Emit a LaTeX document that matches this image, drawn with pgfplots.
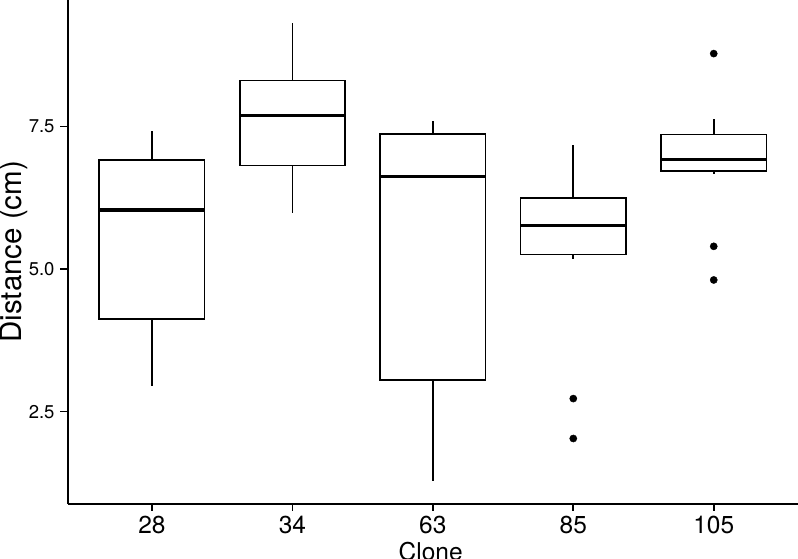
\documentclass[border=0pt]{standalone}
\usepackage{fontspec}
\setmainfont{TeX Gyre Heros}
\usepackage{pgfplots}
\pgfplotsset{compat=1.18}
\usepgfplotslibrary{statistics}
\begin{document}
\begin{tikzpicture}
\begin{axis}[
  at={(0,0)}, anchor=south west,
  scale only axis, width=730.3pt, height=503.5pt,
  xmin=0.4, xmax=5.6, ymin=0.89, ymax=9.72,
  axis x line*=bottom, axis y line*=left,
  axis line style={black, line width=2pt},
  xtick={1,2,3,4,5}, xticklabels={28,34,63,85,105},
  ytick={2.5,5,7.5}, yticklabels={2.5,5.0,7.5},
  tick align=outside, major tick length=0pt,
  xticklabel style={font=\fontsize{24.5}{24.5}\selectfont, inner sep=0pt, anchor=north, yshift=-12pt},
  yticklabel style={font=\fontsize{18.5}{18.5}\selectfont, inner sep=0pt, anchor=east, xshift=-13pt},
  xlabel={Clone}, ylabel={Distance (cm)},
  xlabel style={font=\fontsize{24.5}{24.5}\selectfont, at={(axis description cs:0.497,-0.0763)}, anchor=north, inner sep=0pt},
  ylabel style={font=\fontsize{29.5}{29.5}\selectfont, at={(axis description cs:-0.0927,0.5)}, rotate=0, anchor=north, inner sep=0pt},
  boxplot/draw direction=y,
  boxplot/box extend=0.75,
  boxplot/whisker extend=0,
  boxplot/every box/.style={draw=black, fill=white, line width=1.6pt},
  boxplot/every whisker/.style={draw=black, line width=1.6pt},
  boxplot/every median/.style={draw=black, line width=3.4pt},
  clip=false,
]
\addplot[black, line width=1.6pt, boxplot prepared={draw position=1, lower whisker=2.95, lower quartile=4.13, median=6.04, upper quartile=6.91, upper whisker=7.43}] coordinates {};
\addplot[black, line width=1.6pt, boxplot prepared={draw position=2, lower whisker=5.98, lower quartile=6.82, median=7.69, upper quartile=8.31, upper whisker=9.32}] coordinates {};
\addplot[black, line width=1.6pt, boxplot prepared={draw position=3, lower whisker=1.29, lower quartile=3.06, median=6.62, upper quartile=7.37, upper whisker=7.59}] coordinates {};
\addplot[black, line width=1.6pt, boxplot prepared={draw position=4, lower whisker=5.18, lower quartile=5.26, median=5.77, upper quartile=6.25, upper whisker=7.17}] coordinates {};
\addplot[black, line width=1.6pt, boxplot prepared={draw position=5, lower whisker=6.67, lower quartile=6.72, median=6.92, upper quartile=7.36, upper whisker=7.63}] coordinates {};
\addplot[only marks, mark=*, mark size=3.6pt, black] coordinates {(4,2.73) (4,2.03) (5,8.78) (5,5.40) (5,4.81)};
\pgfplotsinvokeforeach{2.5,5,7.5}{\draw[black, line width=1.6pt] (axis cs:0.4,#1) -- ++(-7.5pt,0pt);}
\pgfplotsinvokeforeach{1,2,3,4,5}{\draw[black, line width=1.6pt] (axis cs:#1,0.89) -- ++(0pt,-7pt);}
\end{axis}
\pgfresetboundingbox
\useasboundingbox (-67.7pt,-54.5pt) rectangle (730.3pt,503.5pt);
\end{tikzpicture}
\end{document}
